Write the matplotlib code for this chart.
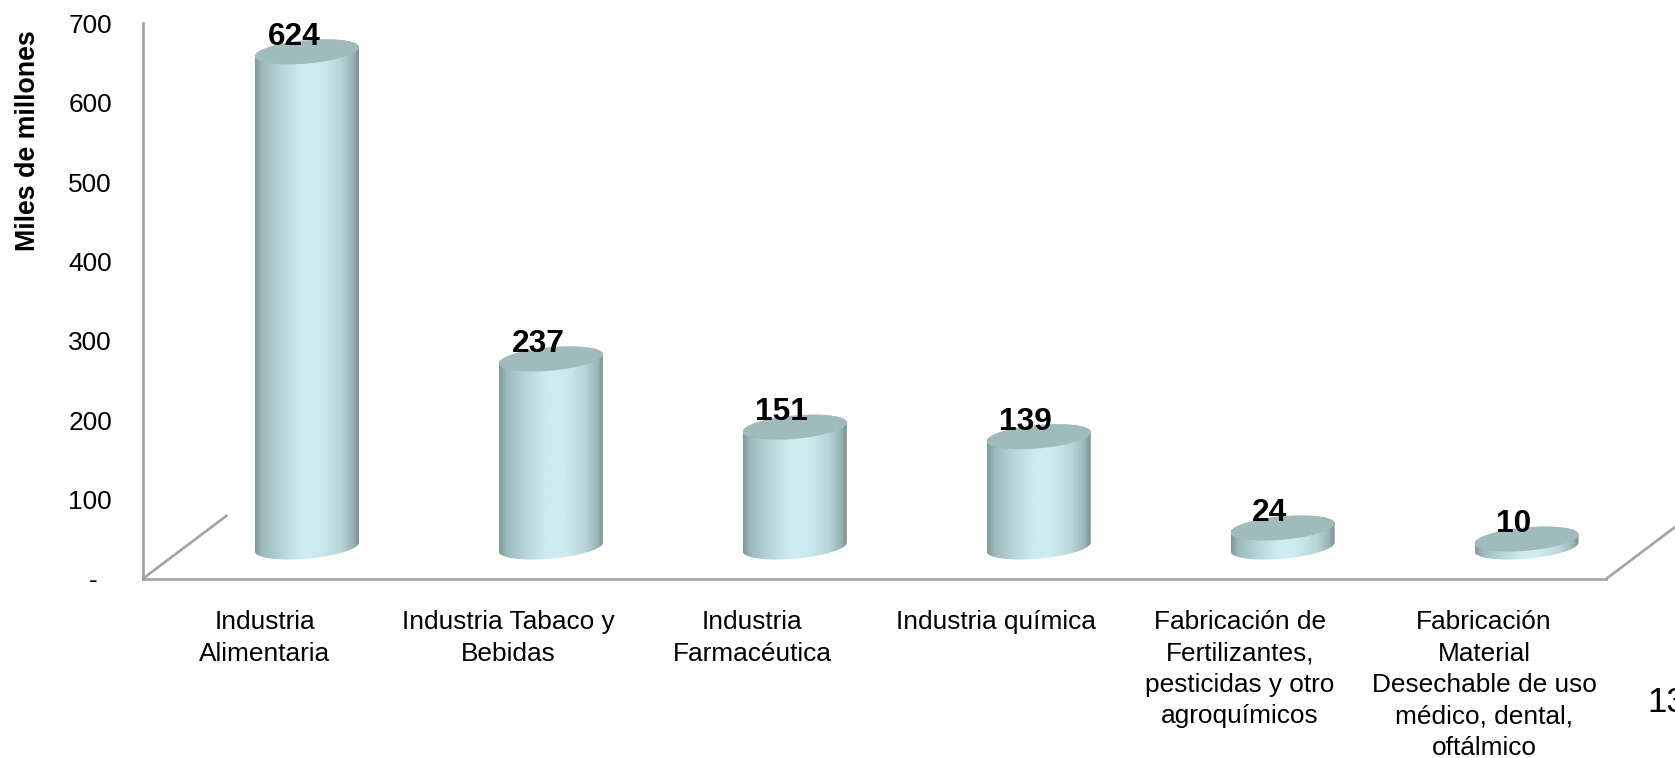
import numpy as np
import matplotlib
matplotlib.use("Agg")
import matplotlib.pyplot as plt
from matplotlib.colors import LinearSegmentedColormap
from matplotlib.patches import Polygon

categories = [
    "Industria\nAlimentaria",
    "Industria Tabaco y\nBebidas",
    "Industria\nFarmacéutica",
    "Industria química",
    "Fabricación de\nFertilizantes,\npesticidas y otro\nagroquímicos",
    "Fabricación\nMaterial\nDesechable de uso\nmédico, dental,\noftálmico",
]
values = [624, 237, 151, 139, 24, 10]
value_labels = ["624", "237", "151", "139", "24", "10"]
y_ticks = [0, 100, 200, 300, 400, 500, 600, 700]
y_tick_labels = ["-  ", "100", "200", "300", "400", "500", "600", "700"]

W, H = 1675, 758
AX_LEFT, AX_RIGHT, AX_TOP, AX_BOTTOM = 142.5, 1606.0, 23.5, 579.0

plt.rcParams["font.family"] = ["Liberation Sans", "DejaVu Sans"]

# depth of the fake 3D floor, in data units
PX_X = (AX_RIGHT - AX_LEFT) / 6
PX_Y = (AX_BOTTOM - AX_TOP) / 700
FLOOR_DX = 85 / PX_X
FLOOR_DY = 64 / PX_Y
BAR_HALF = 0.5 * 104 / PX_X
ELL_B = 11.7 / PX_Y
ELL_TILT = 4.5 / PX_Y

body_cmap = LinearSegmentedColormap.from_list(
    "cyl", [(0, "#7f9a9b"), (0.07, "#9cb9bb"), (0.25, "#b6d5d8"), (0.45, "#cdecef"),
            (0.62, "#cdecef"), (0.82, "#b8d6da"), (0.94, "#9ab6b8"), (1, "#738f90")])
top_color = "#9fbbbb"


def ellipse(cx, cy, t):
    return cx + BAR_HALF * np.cos(t), cy + ELL_B * np.sin(t) + ELL_TILT * np.cos(t)


def draw_cylinder(ax, i, value):
    cx = i + FLOOR_DX / 2
    base = FLOOR_DY / 2
    top = base + value
    t_low = np.linspace(np.pi, 2 * np.pi, 80)
    t_up = np.linspace(0, np.pi, 80)

    # body outline: lower half of base ellipse, upper half of top ellipse
    xb, yb = ellipse(cx, base, t_low)
    xt, yt = ellipse(cx, top, t_up)
    body = Polygon(np.column_stack([np.r_[xb, xt], np.r_[yb, yt]]),
                   closed=True, fc="none", ec="none", transform=ax.transData)
    ax.add_patch(body)
    grad = np.linspace(0, 1, 256).reshape(1, -1)
    img = ax.imshow(grad, cmap=body_cmap, aspect="auto", zorder=3,
                    extent=[cx - BAR_HALF, cx + BAR_HALF, base - 2 * ELL_B, top + 2 * ELL_B])
    img.set_clip_path(body)
    img.set_clip_on(True)

    t = np.linspace(0, 2 * np.pi, 160)
    xe, ye = ellipse(cx, top, t)
    ax.fill(xe, ye, color=top_color, lw=0, zorder=4, clip_on=False)

    ax.annotate(value_labels[i], (cx, top), xytext=(-13, 15), textcoords="offset pixels",
                ha="center", va="center", fontsize=22.8, fontweight="bold",
                color="black", zorder=5, annotation_clip=False)


fig = plt.figure(figsize=(W / 100, H / 100), dpi=100, facecolor="white")
ax = fig.add_axes([AX_LEFT / W, 1 - AX_BOTTOM / H, (AX_RIGHT - AX_LEFT) / W, (AX_BOTTOM - AX_TOP) / H])

for i, v in enumerate(values):
    draw_cylinder(ax, i, v)

ax.set_xlim(-0.5, 5.5)
ax.set_ylim(0, 700)

for side in ["top", "right"]:
    ax.spines[side].set_visible(False)
for side in ["left", "bottom"]:
    ax.spines[side].set_color("#a3a3a3")
    ax.spines[side].set_linewidth(1.9)

# floor edges going back
for x0 in [-0.5, 5.5]:
    ax.plot([x0, x0 + FLOOR_DX], [0, FLOOR_DY], color="#a3a3a3", lw=1.9,
            clip_on=False, solid_capstyle="butt", zorder=2)

ax.set_yticks(y_ticks)
ax.set_yticklabels(y_tick_labels, fontsize=18.9, color="black")
ax.tick_params(axis="y", length=0, pad=22)
ax.set_xticks(range(len(categories)))
ax.set_xticklabels(categories, fontsize=18.9, color="black", linespacing=1.39)
ax.tick_params(axis="x", length=0, pad=22.5)

fig.text(28 / W, 1 - 141 / H, "Miles de millones", rotation=90, ha="center", va="center",
         fontsize=19.3, fontweight="bold", color="black")
fig.text(1647 / W, 1 - 703 / H, "13", ha="left", va="center", fontsize=25, color="black")

fig.savefig("out.png", dpi=100, facecolor="white")
